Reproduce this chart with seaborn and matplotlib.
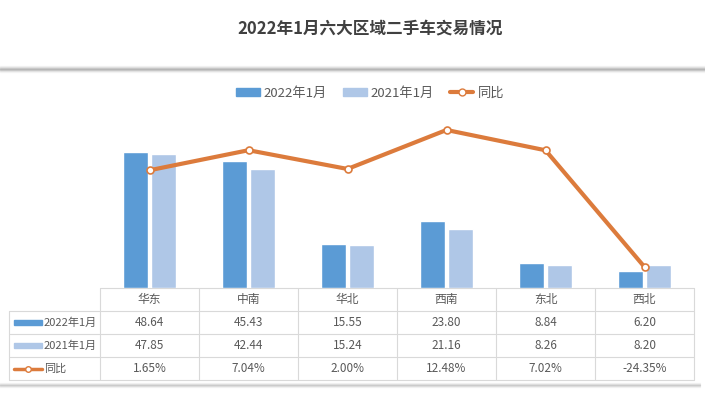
import pandas as pd
import seaborn as sns
import matplotlib
matplotlib.use('Agg')
import matplotlib.pyplot as plt
from matplotlib.lines import Line2D
from matplotlib.patches import Patch, Rectangle

# 数据
regions = ["华东", "中南", "华北", "西南", "东北", "西北"]
sales_2022 = [48.64, 45.43, 15.55, 23.80, 8.84, 6.20]
sales_2021 = [47.85, 42.44, 15.24, 21.16, 8.26, 8.20]
yoy = [1.65, 7.04, 2.00, 12.48, 7.02, -24.35]
series_names = ["2022年1月", "2021年1月", "同比"]

sns.set_style("white")
plt.rcParams['font.family'] = ['Noto Sans CJK SC', 'DejaVu Sans']

c22 = "#5B9BD5"
c21 = "#AFC7E7"
c_line = "#DC7B3C"
txt = "#595959"
grid_c = "#D9D9D9"

W, H = 705, 396
fig = plt.figure(figsize=(W / 100, H / 100), dpi=100)

def fx(x):
    return x / W

def fy(y):
    return 1 - y / H

# 背景层(表格、分隔阴影)
bg = fig.add_axes([0, 0, 1, 1])
bg.set_xlim(0, W)
bg.set_ylim(H, 0)
bg.axis('off')

# 标题
fig.text(fx(370), fy(28), "2022年1月六大区域二手车交易情况", ha='center', va='center',
         fontsize=12, fontweight='bold', color="#404040")

# 阴影分隔线
for i, a in enumerate([0.08, 0.18, 0.35, 0.5, 0.35, 0.15, 0.06]):
    bg.plot([0, W], [66 + i, 66 + i], color="#808080", alpha=a, lw=1)
for i, a in enumerate([0.08, 0.2, 0.35, 0.2, 0.08]):
    bg.plot([0, 700], [383 + i, 383 + i], color="#808080", alpha=a, lw=1)

# 柱状图
df = pd.DataFrame({
    "region": regions * 2,
    "value": sales_2022 + sales_2021,
    "year": [series_names[0]] * len(regions) + [series_names[1]] * len(regions),
})
ax = fig.add_axes([fx(100), fy(288), fx(594), (288 - 102) / H])
sns.barplot(data=df, x="region", y="value", hue="year", palette=[c22, c21],
            width=0.56, gap=0.08, ax=ax, legend=False, saturation=1)
ax.set_xlim(-0.5, len(regions) - 0.5)
ax.set_ylim(0, 66.4)
ax.axis('off')

# 同比折线
ax2 = ax.twinx()
ldf = pd.DataFrame({"region": regions, "yoy": yoy})
sns.lineplot(data=ldf, x="region", y="yoy", ax=ax2, color=c_line, lw=3,
             marker='o', markersize=5, markerfacecolor='white',
             markeredgecolor=c_line, markeredgewidth=1.2, sort=False)
ax2.set_xlim(-0.5, len(regions) - 0.5)
ax2.set_ylim(-30, 20)
ax2.axis('off')

# 图例
handles = [
    Patch(color=c22),
    Patch(color=c21),
    Line2D([0], [0], color=c_line, lw=3, marker='o', markersize=5,
           markerfacecolor='white', markeredgecolor=c_line),
]
fig.legend(handles, series_names, loc='center', bbox_to_anchor=(fx(370), fy(93)),
           ncol=3, frameon=False, fontsize=9.5, labelcolor=txt,
           handlelength=1.8, handleheight=0.6, columnspacing=1.2, handletextpad=0.3)

# 数据表
x0, colw = 100, 99
left = 9
rows_y = [288, 311, 334, 357, 380]
ncol = len(regions)
right = x0 + colw * ncol
# 横线
bg.plot([x0, right], [rows_y[0], rows_y[0]], color=grid_c, lw=0.8)
for y in rows_y[1:]:
    bg.plot([left, right], [y, y], color=grid_c, lw=0.8)
# 竖线
bg.plot([left, left], [rows_y[1], rows_y[-1]], color=grid_c, lw=0.8)
for i in range(ncol + 1):
    bg.plot([x0 + colw * i, x0 + colw * i], [rows_y[0], rows_y[-1]], color=grid_c, lw=0.8)

for i, r in enumerate(regions):
    cx = x0 + colw * (i + 0.5)
    bg.text(cx, (rows_y[0] + rows_y[1]) / 2, r, ha='center', va='center', fontsize=8.5, color=txt)
    bg.text(cx, (rows_y[1] + rows_y[2]) / 2, f"{sales_2022[i]:.2f}", ha='center', va='center', fontsize=8.5, color=txt)
    bg.text(cx, (rows_y[2] + rows_y[3]) / 2, f"{sales_2021[i]:.2f}", ha='center', va='center', fontsize=8.5, color=txt)
    bg.text(cx, (rows_y[3] + rows_y[4]) / 2, f"{yoy[i]:.2f}%", ha='center', va='center', fontsize=8.5, color=txt)

# 表格行标题及图例标记
for k, name in enumerate(series_names):
    cy = (rows_y[k + 1] + rows_y[k + 2]) / 2
    if k < 2:
        bg.add_patch(Rectangle((14, cy - 2.5), 28, 5, color=[c22, c21][k]))
    else:
        bg.plot([14, 42], [cy, cy], color=c_line, lw=2.5)
        bg.plot([28], [cy], marker='o', markersize=4, markerfacecolor='white',
                markeredgecolor=c_line, markeredgewidth=1)
    bg.text(44, cy, name, ha='left', va='center', fontsize=8, color=txt)

fig.savefig("out.png", dpi=100)
